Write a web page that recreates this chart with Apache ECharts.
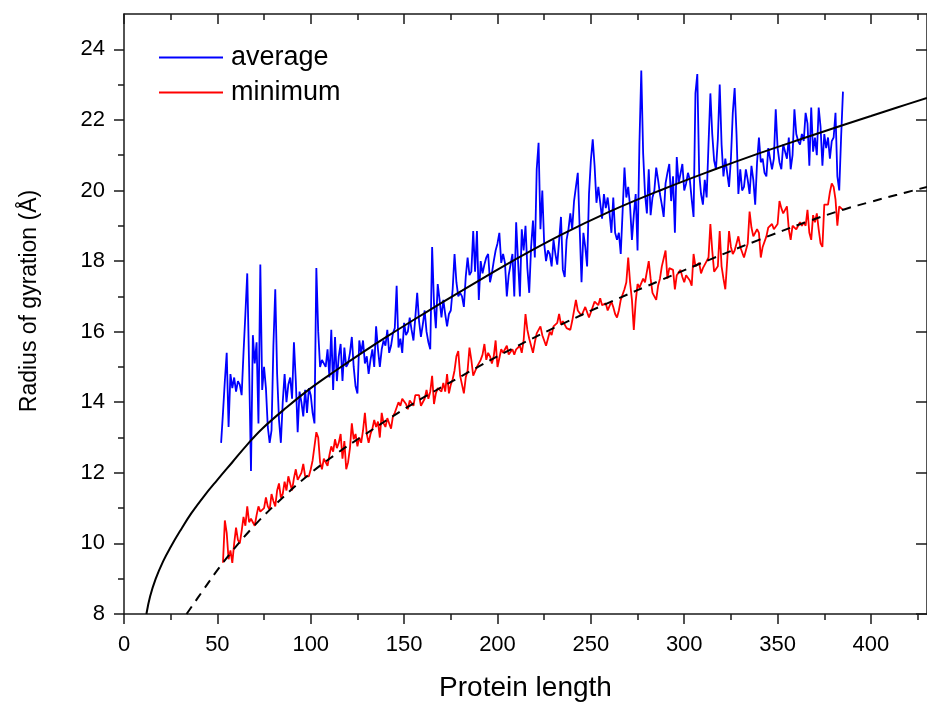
<!DOCTYPE html>
<html><head><meta charset="utf-8">
<script src="https://cdn.jsdelivr.net/npm/echarts@6/dist/echarts.min.js"></script>
<style>html,body{margin:0;padding:0;background:#fff}#c{width:927px;height:709px}</style>
</head><body><div id="c"></div>
<script>
// ---- data ----
const AVG_START = 52;   // protein length of first "average" point
const avgRg = [
12.85,13.7,14.6,15.4,13.3,14.8,14.4,14.7,14.3,14.6,
14.5,14.2,15.4,16.5,17.65,15.0,12.05,15.9,15.1,15.7,
13.4,17.9,14.35,15.0,14.4,13.3,12.85,13.2,15.6,17.2,
14.8,13.5,12.85,14.0,14.8,14.0,14.5,14.7,14.1,15.7,
14.6,13.15,14.3,14.0,13.6,14.35,13.7,14.4,14.2,13.7,
13.4,17.8,16.0,15.0,15.2,15.2,15.0,15.5,14.7,16.05,
14.35,15.85,14.6,15.3,15.65,14.6,15.55,15.0,15.1,15.4,
15.85,15.0,14.45,14.25,15.75,15.4,15.75,15.1,15.3,14.8,
15.2,15.5,15.0,16.15,15.5,15.0,15.5,15.75,15.6,16.05,
15.4,15.6,15.95,16.1,17.3,15.55,15.8,15.4,16.25,15.9,
16.0,16.4,16.05,15.75,16.4,17.1,16.3,15.85,16.2,16.6,
16.0,15.7,15.5,18.4,16.8,16.1,17.35,16.9,16.4,16.9,
16.5,16.15,16.5,16.6,17.2,18.2,17.4,17.0,17.1,17.0,
16.7,17.55,18.1,17.6,17.7,18.85,17.7,18.85,16.9,18.0,
17.65,17.9,18.1,18.2,17.4,17.65,18.0,18.3,18.5,18.8,
17.95,18.2,17.95,17.0,17.6,17.6,18.2,17.0,19.1,18.0,
17.0,18.9,18.3,19.0,17.8,17.1,18.4,19.15,18.1,20.6,
21.35,18.9,20.0,18.5,18.0,18.3,18.2,17.85,18.6,18.2,
17.9,17.85,19.25,17.75,17.55,18.6,18.9,19.35,18.9,19.7,
20.1,20.5,18.95,17.4,18.8,18.4,17.85,19.9,20.85,21.45,
20.7,19.65,20.1,20.1,19.2,19.9,19.5,19.8,19.35,18.8,
19.8,18.8,18.6,18.8,18.2,19.4,20.65,19.8,20.1,19.55,
18.6,19.3,19.9,18.3,21.3,23.4,21.05,19.9,19.35,20.6,
19.3,19.8,20.0,20.65,20.3,19.9,19.6,19.25,20.2,20.5,
20.75,19.7,20.4,18.8,20.95,20.2,20.2,20.75,20.0,20.2,
20.5,20.3,19.75,19.25,22.75,23.3,20.5,19.9,19.6,20.3,
19.8,21.3,22.75,21.6,20.85,20.6,21.45,23.0,21.3,20.4,
20.9,20.5,20.1,20.9,22.2,22.9,21.6,19.9,20.6,20.0,
20.1,20.6,20.3,19.9,20.7,20.3,19.6,20.8,21.5,20.8,
20.9,20.5,20.4,21.2,21.25,20.6,20.9,22.3,21.2,20.8,
20.6,21.3,21.25,20.9,21.5,20.6,21.0,22.3,21.6,21.4,
21.3,21.6,21.4,22.2,21.9,20.7,22.35,21.1,21.5,21.0,
22.35,21.8,20.7,21.6,21.2,21.5,20.9,21.4,21.5,22.2,
20.4,20.0,21.5,22.8
];
const MIN_START = 53;   // protein length of first "minimum" point
const minRg = [
9.45,10.65,10.3,9.55,9.8,9.45,10.0,10.45,10.1,10.0,
10.35,10.75,10.5,11.05,10.6,10.7,10.75,10.5,10.8,11.05,
10.9,10.85,11.0,11.3,11.05,10.95,11.4,11.2,11.05,11.5,
11.7,11.3,11.4,11.75,11.5,11.9,11.7,11.5,11.85,12.1,
11.8,11.9,12.0,12.25,11.9,11.85,11.9,12.1,12.35,12.3,
13.15,13.0,12.3,12.1,12.4,12.35,12.2,12.5,12.75,12.6,
12.95,12.7,12.85,13.1,12.4,12.9,12.1,12.3,12.7,13.4,
12.95,13.1,12.75,13.0,12.85,13.2,13.7,13.1,12.85,13.1,
13.25,13.5,13.3,13.45,13.0,13.7,13.4,13.3,13.55,13.5,
13.25,13.6,13.7,13.85,14.0,13.9,14.1,14.15,13.95,13.8,
14.05,14.0,13.9,14.2,14.15,14.2,13.9,13.85,14.1,14.35,
14.1,14.3,14.75,13.95,14.25,14.4,14.45,14.3,14.55,14.3,
14.8,14.25,14.5,14.65,14.9,15.3,15.45,14.75,14.5,14.25,
14.7,14.9,15.55,15.2,14.75,14.8,15.0,15.0,15.2,15.35,
15.65,15.2,15.4,15.3,15.1,15.3,15.75,15.0,14.95,15.5,
15.4,15.5,15.6,15.35,15.4,15.5,15.35,15.5,15.55,15.6,
15.4,15.75,16.5,16.05,15.8,15.6,15.4,15.7,15.95,16.0,
16.15,15.9,15.95,15.6,15.8,16.0,15.9,16.15,16.2,16.25,
16.5,16.2,16.3,16.35,16.1,16.15,16.05,16.3,16.25,16.9,
16.6,16.6,16.45,16.45,16.7,16.65,16.4,16.55,16.7,16.85,
16.9,16.75,16.95,16.75,16.7,16.8,16.6,16.6,16.85,16.7,
16.5,16.4,16.6,16.9,16.9,17.2,17.4,18.1,17.4,16.9,
16.05,16.85,17.35,17.25,17.3,17.5,17.4,17.35,18.0,17.5,
17.1,17.0,16.9,17.3,17.5,17.85,17.9,18.3,17.5,17.8,
17.85,17.75,17.2,17.6,17.65,17.75,17.55,17.4,17.6,17.55,
17.45,17.3,18.2,17.85,17.8,17.95,17.65,17.8,17.9,18.0,
18.1,19.05,18.3,17.7,17.65,17.85,18.85,17.85,17.5,17.2,
18.0,18.85,18.4,18.2,18.3,18.5,18.7,18.4,18.4,18.1,
18.3,18.5,19.4,18.95,18.7,18.7,18.9,18.8,18.1,18.4,
18.4,18.7,18.95,19.0,19.05,18.9,18.85,19.05,19.7,19.5,
19.35,19.4,19.55,18.9,18.6,19.0,19.05,18.9,18.85,19.1,
19.0,19.1,19.0,19.45,18.8,18.6,19.3,19.1,19.35,18.9,
18.5,18.4,19.6,19.6,19.6,19.95,20.2,20.1,19.75,19.0,
19.55,19.6,19.45
];
// fitted curves
const fitAvgLen = [12,14,17,21,25,30,36,43,50,58,66,74,87,100,114,128,142,155,168,181,195,208,234,260,287,314,340,365,386,400,414,430];
const fitAvgRg  = [8.0,8.5,9.0,9.5,9.9,10.35,10.85,11.35,11.8,12.3,12.8,13.25,13.85,14.4,14.92,15.42,15.9,16.33,16.75,17.16,17.6,18.0,18.74,19.4,20.0,20.55,21.05,21.5,21.87,22.11,22.35,22.62];
const fitMinLen = [33.5,36,43,49,57,68,81,99,114,128,152,181,208,234,260,288,315,340,365,386,400,414,430];
const fitMinRg  = [8.0,8.19,8.72,9.17,9.72,10.4,11.1,11.95,12.55,13.05,13.87,14.75,15.52,16.2,16.83,17.47,18.07,18.6,19.1,19.47,19.68,19.88,20.1];
// axis ticks
const xMajorTicks = [0,50,100,150,200,250,300,350,400];
const xMinorTicks = [25,75,125,175,225,275,325,375,425];
const yMajorTicks = [8,10,12,14,16,18,20,22,24];
const yMinorTicks = [9,11,13,15,17,19,21,23];
const seriesNames = ['average','minimum'];
const X_MIN = 0, X_MAX = 430, Y_MIN = 8, Y_MAX = 25;

// ---- chart ----
const FONT = '"Liberation Sans", Arial, sans-serif';
const AX = '#1a1a1a';
const TICK_FS = 22;
const chart = echarts.init(document.getElementById('c'), null, {renderer:'canvas'});

function xAx(pos, ticks, len, inside, showLine, showLabel, extra) {
  return Object.assign({
    type:'value', position:pos, min:X_MIN, max:X_MAX, gridIndex:0,
    axisLine:{show:showLine, onZero:false, lineStyle:{color:AX, width:1.5}},
    axisTick:{show:true, inside:inside, length:len, customValues:ticks, lineStyle:{color:AX, width:1.5}},
    axisLabel:{show:showLabel, customValues:ticks, margin:20, fontSize:TICK_FS, color:'#000', fontFamily:FONT},
    splitLine:{show:false}, minorTick:{show:false}
  }, extra||{});
}
function yAx(pos, ticks, len, inside, showLine, showLabel) {
  return {
    type:'value', position:pos, min:Y_MIN, max:Y_MAX, gridIndex:0,
    axisLine:{show:showLine, onZero:false, lineStyle:{color:AX, width:1.5}},
    axisTick:{show:true, inside:inside, length:len, customValues:ticks, lineStyle:{color:AX, width:1.5}},
    axisLabel:{show:showLabel, customValues:ticks, margin:19, fontSize:TICK_FS, color:'#000', fontFamily:FONT},
    splitLine:{show:false}, minorTick:{show:false}
  };
}

const option = {
  animation:false,
  backgroundColor:'#fff',
  grid:{left:124, top:14, right:-6, bottom:95, containLabel:false},
  xAxis:[
    xAx('bottom', xMajorTicks, 10, false, true, true, {
      name:'Protein length', nameLocation:'middle', nameGap:60,
      nameTextStyle:{fontSize:28, color:'#000', fontFamily:FONT}
    }),
    xAx('bottom', xMinorTicks, 6, false, false, false),
    xAx('top', xMajorTicks, 10, true, true, false),
    xAx('top', xMinorTicks, 6, true, false, false)
  ],
  yAxis:[
    yAx('left', yMajorTicks, 10, false, true, true),
    yAx('left', yMinorTicks, 6, false, false, false),
    yAx('right', yMajorTicks, 11, true, true, false)
  ],
  legend:{
    data:[{name:seriesNames[0], icon:'rect'},{name:seriesNames[1], icon:'rect'}],
    orient:'vertical', left:159, top:44, padding:0, itemWidth:64, itemHeight:2, itemGap:8,
    selectedMode:false,
    textStyle:{fontSize:27, color:'#000', fontFamily:FONT, padding:[0,0,0,3]}
  },
  graphic:[{
    type:'text', x:30, y:301, rotation:Math.PI/2,
    style:{text:'Radius of gyration (Å)', fontSize:23, fontFamily:FONT, fill:'#000',
      align:'center', verticalAlign:'middle', textAlign:'center', textVerticalAlign:'middle'}
  }],
  series:[
    {name:seriesNames[0], type:'line', xAxisIndex:0, yAxisIndex:0, symbol:'none', showSymbol:false,
     data:avgRg.map((v,i)=>[AVG_START+i, v]),
     lineStyle:{color:'#0000ff', width:1.8}, itemStyle:{color:'#0000ff'}, z:2},
    {name:seriesNames[1], type:'line', xAxisIndex:0, yAxisIndex:0, symbol:'none', showSymbol:false,
     data:minRg.map((v,i)=>[MIN_START+i, v]),
     lineStyle:{color:'#ff0000', width:1.8}, itemStyle:{color:'#ff0000'}, z:2},
    {name:'fit average', type:'line', xAxisIndex:0, yAxisIndex:0, symbol:'none', showSymbol:false, smooth:0.4,
     data:fitAvgLen.map((x,i)=>[x, fitAvgRg[i]]),
     lineStyle:{color:'#000', width:2}, z:5},
    {name:'fit minimum', type:'line', xAxisIndex:0, yAxisIndex:0, symbol:'none', showSymbol:false, smooth:0.4,
     data:fitMinLen.map((x,i)=>[x, fitMinRg[i]]),
     lineStyle:{color:'#000', width:2, type:[9,7]}, z:5}
  ]
};
chart.setOption(option);
</script>
</body></html>
